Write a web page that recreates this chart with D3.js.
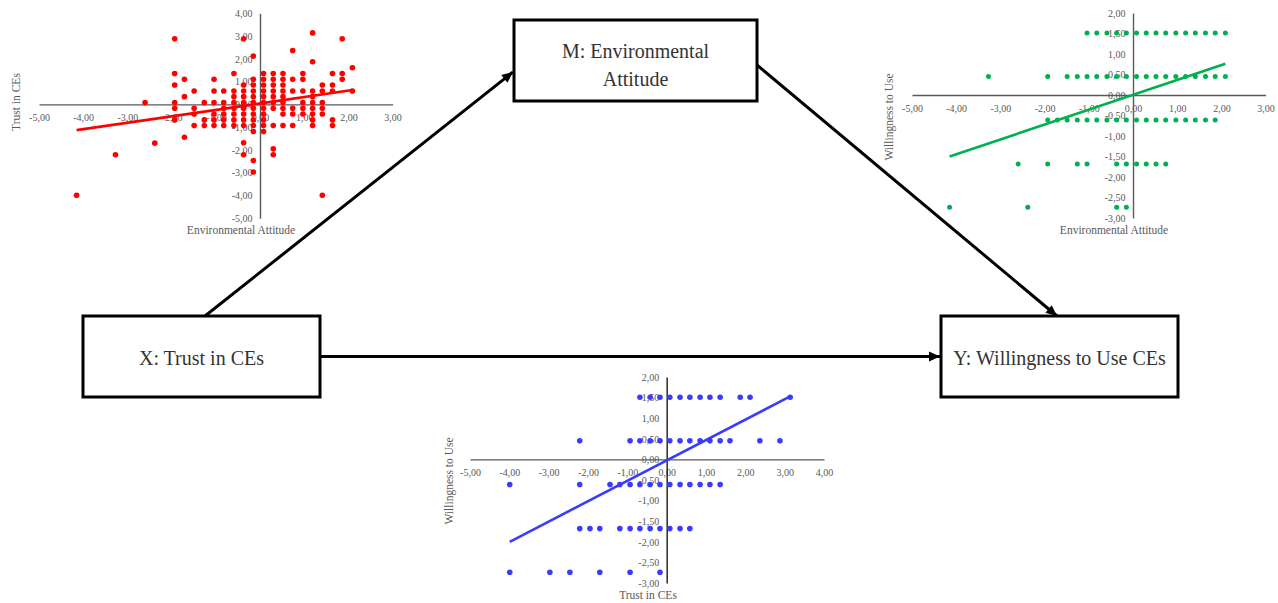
<!DOCTYPE html>
<html><head><meta charset="utf-8">
<script src="https://cdn.jsdelivr.net/npm/d3@7"></script>
<style>body{margin:0;background:#fff}svg{display:block}</style>
</head><body><svg id="c" width="1278" height="603"></svg>
<script>
// ---------- DATA ----------
// Red scatter: Environmental Attitude (x) vs Trust in CEs (y), grouped by x column
const redEA = [-4.15,-3.27,-2.60,-2.38,-1.93,-1.71,-1.49,-1.26,-1.04,-0.82,-0.59,-0.37,-0.15,0.08,0.30,0.52,0.74,0.97,1.19,1.41,1.64,1.86,2.09];
const redTrust = [
  [-3.99],
  [-2.21],
  [0.08],
  [-1.70],
  [2.88,1.36,0.85,0.08,-0.17,-0.68],
  [1.10,0.34,-1.44],
  [0.59,-0.17,-0.42,-0.93],
  [0.08,-0.68,-0.93],
  [1.10,0.59,0.08,-0.42,-0.68,-0.93],
  [0.59,0.08,-0.17,-0.42,-0.68,-0.93],
  [1.36,0.59,0.34,0.08,-0.17,-0.42,-0.68,-0.93],
  [2.88,0.85,0.59,0.34,0.08,-0.17,-0.42,-0.68,-0.93,-1.68,-2.21],
  [2.12,1.10,0.85,0.59,0.34,0.08,-0.17,-0.42,-0.68,-0.93,-1.19,-2.46,-2.97],
  [1.36,1.10,0.85,0.59,0.34,0.08,-0.17,-0.42,-0.68,-0.93,-1.19],
  [1.36,1.10,0.85,0.59,0.34,0.08,-0.17,-0.93,-1.95,-2.21],
  [1.36,1.10,0.85,0.59,0.34,0.08,-0.17,-0.42,-0.93],
  [2.37,1.10,0.59,-0.17,-0.42,-0.93],
  [1.36,1.10,0.59,0.08,-0.17,-0.42],
  [3.14,1.87,0.59,0.34,0.08,-0.17,-0.42,-0.68,-0.93],
  [0.85,0.59,0.08,-0.17,-0.42,-3.99],
  [1.36,0.85,0.59,-0.68,-0.93],
  [2.88,1.36,1.10],
  [1.61,0.59]
];
const redTrendX = [-4.15, 2.09];
const redTrendY = [-1.13, 0.63];

// Green scatter: Environmental Attitude (x) vs Willingness to Use (y), grouped by y row
const greenWill = [1.51, 0.45, -0.61, -1.68, -2.74];
const greenEA = [
  [-1.04,-0.82,-0.59,-0.37,-0.15,0.08,0.30,0.52,0.74,0.97,1.19,1.41,1.64,1.86,2.09],
  [-3.27,-1.93,-1.49,-1.26,-1.04,-0.82,-0.59,-0.37,-0.15,0.08,0.30,0.52,0.74,0.97,1.19,1.41,1.64,1.86,2.09],
  [-1.93,-1.71,-1.49,-1.26,-1.04,-0.82,-0.59,-0.37,-0.15,0.08,0.30,0.52,0.74,0.97,1.19,1.41,1.64,1.86],
  [-2.60,-1.93,-1.26,-1.04,-0.37,-0.15,0.08,0.30,0.52,0.74],
  [-4.15,-2.38,-0.37,-0.15]
];
const greenTrendX = [-4.15, 2.09];
const greenTrendY = [-1.50, 0.76];

// Blue scatter: Trust in CEs (x) vs Willingness to Use (y), grouped by y row
const blueWill = [1.51, 0.45, -0.61, -1.68, -2.74];
const blueTrust = [
  [-0.68,-0.42,-0.17,0.08,0.34,0.59,0.85,1.10,1.36,1.87,2.12,3.14],
  [-2.21,-0.93,-0.68,-0.42,-0.17,0.08,0.34,0.59,0.85,1.10,1.36,1.61,2.37,2.88],
  [-3.99,-2.21,-1.44,-1.19,-0.93,-0.68,-0.42,-0.17,0.08,0.34,0.59,0.85,1.10,1.36],
  [-2.21,-1.95,-1.70,-1.19,-0.93,-0.68,-0.42,-0.17,0.08,0.34,0.59],
  [-3.99,-2.97,-2.46,-1.70,-0.93,-0.17]
];
const blueTrendX = [-3.99, 3.14];
const blueTrendY = [-2.00, 1.53];

// Tick values
const redXTicks = [-5,-4,-3,-2,-1,0,1,2,3];
const redYTicks = [-5,-4,-3,-2,-1,0,1,2,3,4];
const greenXTicks = [-5,-4,-3,-2,-1,0,1,2,3];
const greenYTicks = [-3,-2.5,-2,-1.5,-1,-0.5,0,0.5,1,1.5,2];
const blueXTicks = [-5,-4,-3,-2,-1,0,1,2,3,4];
const blueYTicks = [-3,-2.5,-2,-1.5,-1,-0.5,0,0.5,1,1.5,2];

// Texts
const boxM = ["M: Environmental", "Attitude"];
const boxX = ["X: Trust in CEs"];
const boxY = ["Y: Willingness to Use CEs"];
const redTitles = ["Environmental Attitude", "Trust in CEs"];
const greenTitles = ["Environmental Attitude", "Willingness to Use"];
const blueTitles = ["Trust in CEs", "Willingness to Use"];

// ---------- DRAW ----------
const svg = d3.select("#c");
svg.append("rect").attr("width",1278).attr("height",603).attr("fill","#fff");
const SERIF = "'Liberation Serif','Times New Roman',serif";
const loc = d3.formatLocale({decimal:",", thousands:".", grouping:[3], currency:["",""], minus:"-"});
const fmt = loc.format(".2f");

// arrows
const defs = svg.append("defs");
defs.append("marker").attr("id","ah").attr("markerUnits","userSpaceOnUse")
  .attr("viewBox","0 -5 10 10").attr("refX",10).attr("refY",0)
  .attr("markerWidth",12).attr("markerHeight",11).attr("orient","auto")
  .append("path").attr("d","M0,-4.5L10,0L0,4.5Z").attr("fill","#000");

const arrows = [
  [205,316,513,72],
  [757,65,1057,316],
  [320,356.5,940,356.5]
];
svg.append("g").selectAll("line").data(arrows).join("line")
  .attr("x1",d=>d[0]).attr("y1",d=>d[1]).attr("x2",d=>d[2]).attr("y2",d=>d[3])
  .attr("stroke","#000").attr("stroke-width",3).attr("marker-end","url(#ah)");

// boxes
function box(x0,y0,x1,y1,lines,cy,lh){
  svg.append("rect").attr("x",x0).attr("y",y0).attr("width",x1-x0).attr("height",y1-y0)
    .attr("fill","#fff").attr("stroke","#000").attr("stroke-width",3);
  svg.append("g").selectAll("text").data(lines).join("text")
    .attr("x",(x0+x1)/2).attr("y",(d,i)=>cy+i*lh).attr("dy","0.35em")
    .attr("text-anchor","middle").attr("font-family",SERIF).attr("font-size",20)
    .attr("fill","#333").text(d=>d);
}
box(514,20,757,101,boxM,50.5,28);
box(83,316,320,397,boxX,358,0);
box(941,316,1178,397,boxY,358,0);

// scatter charts
function scatter(cfg){
  const g = svg.append("g");
  const x = d3.scaleLinear().domain(cfg.xd).range(cfg.xr);
  const y = d3.scaleLinear().domain(cfg.yd).range(cfg.yr);
  const ax = g.append("g").attr("transform",`translate(0,${y(0)})`)
    .call(d3.axisBottom(x).tickValues(cfg.xt).tickFormat(fmt).tickSize(0).tickPadding(9.5));
  ax.select(".domain").attr("stroke",cfg.axisCol).attr("stroke-width",1.4);
  ax.selectAll("text").attr("font-family",SERIF).attr("font-size",10).attr("fill","#595959");
  const ay = g.append("g").attr("transform",`translate(${x(0)},0)`)
    .call(d3.axisLeft(y).tickValues(cfg.yt).tickFormat(fmt).tickSize(0).tickPadding(7.5));
  ay.select(".domain").attr("stroke",cfg.vAxisCol||cfg.axisCol).attr("stroke-width",1.4);
  ay.selectAll("text").attr("font-family",SERIF).attr("font-size",10).attr("fill","#595959");
  g.append("g").selectAll("circle").data(cfg.pts).join("circle")
    .attr("cx",d=>x(d[0])).attr("cy",d=>y(d[1])).attr("r",cfg.r).attr("fill",cfg.col);
  const tr = cfg.tx.map((v,i)=>[v,cfg.ty[i]]);
  g.append("path").datum(tr).attr("d",d3.line().x(d=>x(d[0])).y(d=>y(d[1])))
    .attr("stroke",cfg.col).attr("stroke-width",2.6).attr("fill","none");
  g.append("text").attr("x",cfg.xtp[0]).attr("y",cfg.xtp[1]).attr("dy","0.35em")
    .attr("text-anchor","middle").attr("font-family",SERIF).attr("font-size",11.5)
    .attr("fill","#595959").text(cfg.titles[0]);
  g.append("text").attr("transform",`translate(${cfg.ytp[0]},${cfg.ytp[1]}) rotate(-90)`)
    .attr("dy","0.35em").attr("text-anchor","middle").attr("font-family",SERIF).attr("font-size",11.5)
    .attr("fill","#595959").text(cfg.titles[1]);
}

const redPts = redEA.flatMap((e,i)=>redTrust[i].map(t=>[e,t]));
const greenPts = greenWill.flatMap((w,i)=>greenEA[i].map(e=>[e,w]));
const bluePts = blueWill.flatMap((w,i)=>blueTrust[i].map(t=>[t,w]));

scatter({xd:[-5,3], xr:[39,392.6], yd:[-5,4], yr:[218.3,13.3], xt:redXTicks, yt:redYTicks,
  pts:redPts, r:2.8, col:"#ff0000", tx:redTrendX, ty:redTrendY, axisCol:"#5a5a5a",
  xtp:[241,230], ytp:[16,102], titles:redTitles});
scatter({xd:[-5,3], xr:[912,1265.6], yd:[-3,2], yr:[218,13], xt:greenXTicks, yt:greenYTicks,
  pts:greenPts, r:2.5, col:"#00b050", tx:greenTrendX, ty:greenTrendY, axisCol:"#5a5a5a",
  xtp:[1114,230], ytp:[889,117], titles:greenTitles});
scatter({xd:[-5,4], xr:[470,824], yd:[-3,2], yr:[583,377], xt:blueXTicks, yt:blueYTicks,
  pts:bluePts, r:2.8, col:"#3b3bff", tx:blueTrendX, ty:blueTrendY, axisCol:"#5a5a5a", vAxisCol:"#1a1a1a",
  xtp:[648,595], ytp:[449,481], titles:blueTitles});
</script>
</body></html>
